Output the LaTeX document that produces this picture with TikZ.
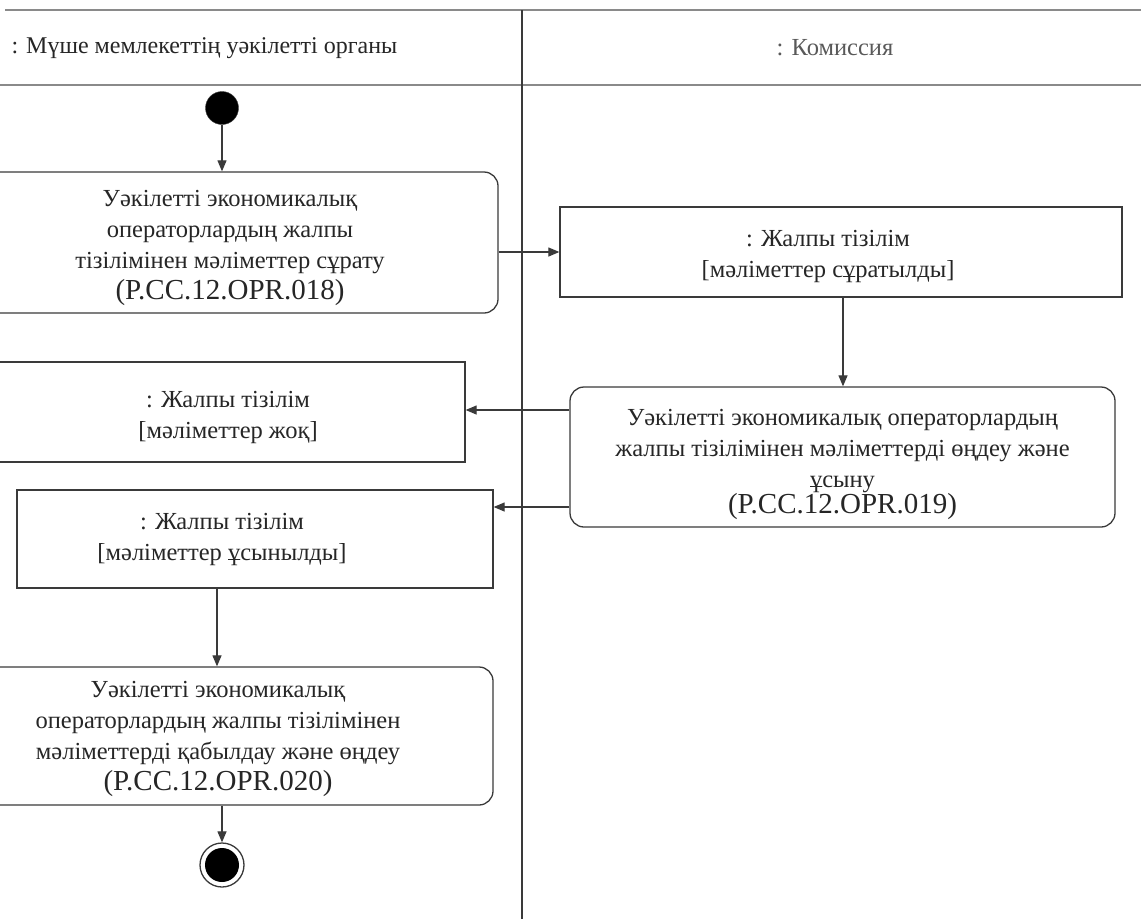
\documentclass[tikz,border=0pt]{standalone}
\usepackage{fontspec}
\setmainfont{Liberation Serif}
\usetikzlibrary{arrows.meta,calc}
\definecolor{ink}{HTML}{262626}
\definecolor{linec}{HTML}{3A3A3A}
\definecolor{frame}{HTML}{8A8A8A}
\tikzset{
  txt/.style={font=\fontsize{24.5}{31}\selectfont, text=ink, align=center},
  actbox/.style={draw=linec, line width=1.3pt, rounded corners=14pt, fill=white, txt, inner sep=0pt},
  objbox/.style={draw=linec, line width=1.3pt, fill=white, txt, inner sep=0pt},
  flow/.style={draw=linec, line width=1.2pt, -{Triangle[length=11pt,width=9pt]}},
}
\newcommand{\codeline}[1]{{\fontsize{29}{31}\selectfont #1}}
\begin{document}
\begin{tikzpicture}[x=1pt,y=-1pt]
\useasboundingbox (0,0) rectangle (1141,919);
% swimlane frame
\draw[frame, line width=2.5pt] (5,10) coordinate (tl) -- (1141,10) coordinate (tr);
\draw[frame, line width=2.5pt] (0,85) coordinate (hl) -- (1141,85) coordinate (hr);
\draw[linec, line width=1.3pt] (522,10) coordinate (dtop) -- (522,919) coordinate (dbot);
\node[font=\fontsize{24}{28}\selectfont, text=ink, anchor=west] (lane1) at (8,48) {: Мүше мемлекеттің уәкілетті органы};
\node[font=\fontsize{24.5}{28}\selectfont, text=black!65] (lane2) at (835,48) {: Комиссия};
% start
\node[circle, fill=black, draw=linec, minimum size=33pt, inner sep=0pt] (start) at (222,108) {};
% box 1
\node[actbox, minimum width=536pt, minimum height=141pt,
  label={[txt, yshift=-5pt]center:{Уәкілетті экономикалық\\операторлардың жалпы\\тізілімінен мәліметтер сұрату\\\codeline{(P.CC.12.OPR.018)}}}] (b1) at (230,242.5) {};
% box 2
\node[objbox, minimum width=562pt, minimum height=90pt,
  label={[txt, xshift=-13pt, yshift=-4pt]center:{: Жалпы тізілім\\{}[мәліметтер сұратылды]}}] (b2) at (841,252) {};
% box 3
\node[actbox, minimum width=545pt, minimum height=140pt,
  label={[txt, yshift=-7pt]center:{Уәкілетті экономикалық операторлардың\\жалпы тізілімінен мәліметтерді өңдеу және\\ұсыну\\[-5pt]\codeline{(P.CC.12.OPR.019)}}}] (b3) at (842.5,457) {};
% box 4
\node[objbox, minimum width=494pt, minimum height=100pt,
  label={[txt, xshift=10pt, yshift=-5pt]center:{: Жалпы тізілім\\{}[мәліметтер жоқ]}}] (b4) at (218,412) {};
% box 5
\node[objbox, minimum width=476pt, minimum height=98pt,
  label={[txt, xshift=-33pt]center:{: Жалпы тізілім\\{}[мәліметтер ұсынылды]}}] (b5) at (255,539) {};
% box 6
\node[actbox, minimum width=550pt, minimum height=138pt,
  label={[txt, yshift=-3pt]center:{Уәкілетті экономикалық\\операторлардың жалпы тізілімінен\\мәліметтерді қабылдау және өңдеу\\\codeline{(P.CC.12.OPR.020)}}}] (b6) at (218,736) {};
% end
\node[circle, draw=linec, line width=1.3pt, minimum size=44pt, inner sep=0pt, fill=white] (stop) at (222,865) {};
\node[circle, fill=black, minimum size=34pt, inner sep=0pt] (stopin) at (stop.center) {};
% flows
\draw[flow] (start) -- (start |- b1.north);
\draw[flow] (b1.east |- b2.west) -- (b2.west);
\draw[flow] ([xshift=2pt]b2.south) coordinate (s2) -- (s2 |- b3.north);
\draw[flow] ([yshift=47pt]b3.west) coordinate (s3) -- (s3 -| b4.east);
\draw[flow] ([yshift=-50pt]b3.west) coordinate (s4) -- (s4 -| b5.east);
\draw[flow] ([xshift=-38pt]b5.south) coordinate (s5) -- (s5 |- b6.north);
\draw[flow] (stop.north |- b6.south) -- (stop.north);
\end{tikzpicture}
\end{document}
